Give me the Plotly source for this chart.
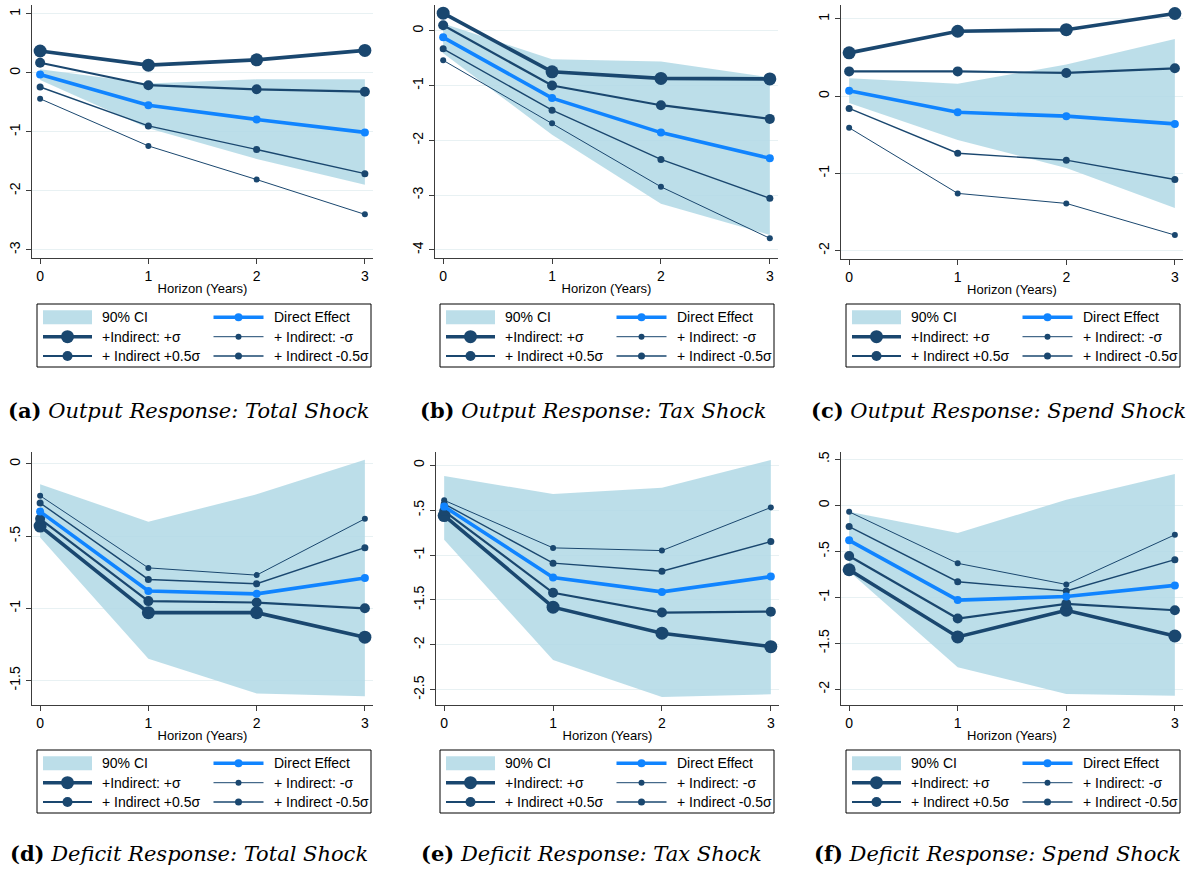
import plotly.graph_objects as go

horizon = [0, 1, 2, 3]

# ---- Panel data ----
panels = ["a", "b", "c", "d", "e", "f"]

captions = {
    "a": ("(a)", "Output Response: Total Shock"),
    "b": ("(b)", "Output Response: Tax Shock"),
    "c": ("(c)", "Output Response: Spend Shock"),
    "d": ("(d)", "Deficit Response: Total Shock"),
    "e": ("(e)", "Deficit Response: Tax Shock"),
    "f": ("(f)", "Deficit Response: Spend Shock"),
}

ci_upper = {
    "a": [0.06, -0.18, -0.11, -0.11],
    "b": [0.13, -0.52, -0.56, -0.85],
    "c": [0.23, 0.16, 0.41, 0.74],
    "d": [-0.14, -0.40, -0.21, 0.03],
    "e": [-0.12, -0.32, -0.25, 0.06],
    "f": [-0.07, -0.30, 0.06, 0.34],
}
ci_lower = {
    "a": [-0.12, -0.94, -1.46, -1.90],
    "b": [-0.41, -1.90, -3.16, -3.73],
    "c": [-0.09, -0.57, -0.93, -1.45],
    "d": [-0.51, -1.35, -1.59, -1.61],
    "e": [-0.83, -2.17, -2.58, -2.55],
    "f": [-0.72, -1.76, -2.05, -2.07],
}
direct = {
    "a": [-0.03, -0.55, -0.79, -1.01],
    "b": [-0.12, -1.23, -1.86, -2.33],
    "c": [0.07, -0.21, -0.26, -0.36],
    "d": [-0.33, -0.88, -0.90, -0.79],
    "e": [-0.46, -1.25, -1.41, -1.24],
    "f": [-0.38, -1.03, -0.99, -0.87],
}
plus_sigma = {
    "a": [0.37, 0.13, 0.22, 0.38],
    "b": [0.32, -0.75, -0.87, -0.88],
    "c": [0.56, 0.84, 0.86, 1.07],
    "d": [-0.43, -1.03, -1.03, -1.20],
    "e": [-0.56, -1.58, -1.87, -2.02],
    "f": [-0.70, -1.43, -1.14, -1.42],
}
plus_half = {
    "a": [0.17, -0.21, -0.28, -0.32],
    "b": [0.10, -1.00, -1.36, -1.61],
    "c": [0.32, 0.32, 0.30, 0.36],
    "d": [-0.38, -0.95, -0.96, -1.00],
    "e": [-0.51, -1.42, -1.64, -1.63],
    "f": [-0.55, -1.23, -1.07, -1.14],
}
minus_half = {
    "a": [-0.24, -0.90, -1.30, -1.71],
    "b": [-0.33, -1.45, -2.35, -3.06],
    "c": [-0.16, -0.74, -0.83, -1.08],
    "d": [-0.27, -0.80, -0.83, -0.58],
    "e": [-0.43, -1.09, -1.18, -0.85],
    "f": [-0.23, -0.83, -0.93, -0.59],
}
minus_sigma = {
    "a": [-0.44, -1.24, -1.81, -2.40],
    "b": [-0.54, -1.69, -2.85, -3.79],
    "c": [-0.41, -1.26, -1.39, -1.80],
    "d": [-0.22, -0.72, -0.77, -0.38],
    "e": [-0.39, -0.92, -0.95, -0.47],
    "f": [-0.07, -0.63, -0.86, -0.32],
}

y_tickvals = {
    "a": [-3, -2, -1, 0, 1],
    "b": [-4, -3, -2, -1, 0],
    "c": [-2, -1, 0, 1],
    "d": [-1.5, -1, -0.5, 0],
    "e": [-2.5, -2, -1.5, -1, -0.5, 0],
    "f": [-2, -1.5, -1, -0.5, 0, 0.5],
}
y_ticktext = {
    "a": ["-3", "-2", "-1", "0", "1"],
    "b": ["-4", "-3", "-2", "-1", "0"],
    "c": ["-2", "-1", "0", "1"],
    "d": ["-1.5", "-1", "-.5", "0"],
    "e": ["-2.5", "-2", "-1.5", "-1", "-.5", "0"],
    "f": ["-2", "-1.5", "-1", "-.5", "0", ".5"],
}
x_tickvals = [0, 1, 2, 3]
x_ticktext = ["0", "1", "2", "3"]

legend_labels = ["90% CI", "Direct Effect", "+Indirect: +σ",
                 "+ Indirect: -σ", "+ Indirect +0.5σ", "+ Indirect -0.5σ"]

# ---- layout geometry (page pixels; graph div shifted up by TOP px) ----
TOP = 24
W, H = 1192, 880 + TOP


def PX(x):
    return min(max(x / W, 0.0), 1.0)


def PY(y):
    return min(max(1 - (y + TOP) / H, 0.0), 1.0)


ranges_y = {
    "a": [-3.14, 1.15],
    "b": [-4.15, 0.47],
    "c": [-2.11, 1.18],
    "d": [-1.67, 0.083],
    "e": [-2.67, 0.148],
    "f": [-2.17, 0.58],
}
x_px = {
    "a": (32, 373), "b": (435, 778), "c": (841, 1183),
    "d": (32, 373), "e": (436, 779), "f": (841, 1183),
}
y_px = {"a": (5, 258), "b": (5, 258), "c": (5, 259),
        "d": (452, 705), "e": (452, 705), "f": (452, 705)}
legend_px = {"a": (37, 304), "b": (440, 304), "c": (846, 304),
             "d": (37, 750), "e": (440, 750), "f": (846, 750)}
caption_px = {"a": (188, 411), "b": (593, 411), "c": (998, 411),
              "d": (189, 853), "e": (591, 853), "f": (997, 853)}

NAVY = "rgb(26,71,111)"
BLUE = "rgb(16,132,255)"
CI = "rgba(176,216,229,0.85)"
GRID = "rgb(232,241,243)"
AX = "rgb(60,60,60)"
SANS = "Liberation Sans, Arial, sans-serif"
SERIF = "DejaVu Serif, serif"

# style per series: (colour, line width, marker size)
styles = {
    "Direct Effect": (BLUE, 3.6, 8),
    "+Indirect: +σ": (NAVY, 3.6, 13),
    "+ Indirect +0.5σ": (NAVY, 2.2, 10),
    "+ Indirect: -σ": (NAVY, 1.0, 6),
    "+ Indirect -0.5σ": (NAVY, 1.4, 7),
}

fig = go.Figure()
layout = dict(
    width=W, height=H, margin=dict(l=0, r=0, t=0, b=0),
    paper_bgcolor="white", plot_bgcolor="white", showlegend=False,
    font=dict(family=SANS, color="black"),
)
annotations = []
shapes = []

for i, p in enumerate(panels):
    n = i + 1
    xa = "x" if n == 1 else f"x{n}"
    ya = "y" if n == 1 else f"y{n}"

    # CI band polygon
    fig.add_trace(go.Scatter(
        x=horizon + horizon[::-1], y=ci_upper[p] + ci_lower[p][::-1],
        fill="toself", fillcolor=CI, line=dict(width=0, color=CI),
        mode="lines", name="90% CI", xaxis=xa, yaxis=ya, hoverinfo="skip"))

    series = [
        ("+Indirect: +σ", plus_sigma[p]),
        ("+ Indirect +0.5σ", plus_half[p]),
        ("+ Indirect: -σ", minus_sigma[p]),
        ("+ Indirect -0.5σ", minus_half[p]),
        ("Direct Effect", direct[p]),
    ]
    for name, vals in series:
        col, lw, ms = styles[name]
        fig.add_trace(go.Scatter(
            x=horizon, y=vals, mode="lines+markers", name=name,
            line=dict(color=col, width=lw), marker=dict(color=col, size=ms),
            xaxis=xa, yaxis=ya))

    x0, x1 = x_px[p]
    yt, yb = y_px[p]
    xkey = "xaxis" if n == 1 else f"xaxis{n}"
    ykey = "yaxis" if n == 1 else f"yaxis{n}"
    layout[xkey] = dict(
        domain=[PX(x0), PX(x1)], anchor=ya, range=[-0.075, 3.075],
        tickvals=x_tickvals, ticktext=x_ticktext, ticks="outside", ticklen=5,
        tickcolor=AX, showline=True, linecolor=AX, linewidth=1.2,
        showgrid=False, zeroline=False,
        tickfont=dict(size=14, family=SANS, color="black"),
        title=dict(text="Horizon (Years)", standoff=0,
                   font=dict(size=13, family=SANS, color="black")),
    )
    layout[ykey] = dict(
        domain=[PY(yb), PY(yt)], anchor=xa, range=ranges_y[p],
        tickvals=y_tickvals[p], ticktext=y_ticktext[p], ticks="outside",
        ticklen=5, tickcolor=AX, showline=True, linecolor=AX, linewidth=1.2,
        showgrid=True, gridcolor=GRID, gridwidth=1, zeroline=False,
        tickangle=-90, tickfont=dict(size=14, family=SANS, color="black"),
    )

    # ---- legend box drawn by hand ----
    lx, ly = legend_px[p]
    shapes.append(dict(type="rect", xref="paper", yref="paper",
                       x0=PX(lx), x1=PX(lx + 334), y0=PY(ly), y1=PY(ly + 63),
                       line=dict(color="black", width=1), fillcolor="white",
                       layer="above"))
    row_c = [13.3, 32.7, 52.0]
    col_sym = [(6, 55), (176.5, 226.5)]
    col_txt = [62.5, 235]
    for k, lab in enumerate(legend_labels):
        r, c = k // 2, k % 2
        cy = ly + row_c[r]
        sx0, sx1 = col_sym[c]
        if lab == "90% CI":
            shapes.append(dict(type="rect", xref="paper", yref="paper",
                               x0=PX(lx + sx0), x1=PX(lx + sx1),
                               y0=PY(cy - 7), y1=PY(cy + 7),
                               line=dict(width=0), fillcolor=CI, layer="above"))
        else:
            col, lw, ms = styles[lab]
            shapes.append(dict(type="line", xref="paper", yref="paper",
                               x0=PX(lx + sx0), x1=PX(lx + sx1),
                               y0=PY(cy), y1=PY(cy),
                               line=dict(color=col, width=lw), layer="above"))
            rr = ms / 2
            shapes.append(dict(type="circle", xref="paper", yref="paper",
                               xsizemode="pixel", ysizemode="pixel",
                               xanchor=PX(lx + (sx0 + sx1) / 2), yanchor=PY(cy),
                               x0=-rr, x1=rr, y0=-rr, y1=rr,
                               line=dict(width=0), fillcolor=col, layer="above"))
        annotations.append(dict(
            x=PX(lx + col_txt[c]), y=PY(cy), xref="paper", yref="paper",
            xanchor="left", yanchor="middle", showarrow=False, text=lab,
            font=dict(size=14, family=SANS, color="black")))

    cx, cy = caption_px[p]
    tag, txt = captions[p]
    annotations.append(dict(
        x=PX(cx), y=PY(cy), xref="paper", yref="paper",
        xanchor="center", yanchor="middle", showarrow=False,
        text=f"<b>{tag}</b> <i>{txt}</i>",
        font=dict(size=21, family=SERIF, color="black")))

layout["annotations"] = annotations
layout["shapes"] = shapes
fig.update_layout(**layout)
fig.write_html(
    "out.html",
    config={"displayModeBar": False},
    post_script=(
        "document.body.style.margin='0px';"
        "document.body.style.overflow='hidden';"
        "var gd=document.getElementsByClassName('plotly-graph-div')[0];"
        f"gd.style.marginTop='-{TOP}px';"
    ),
)
